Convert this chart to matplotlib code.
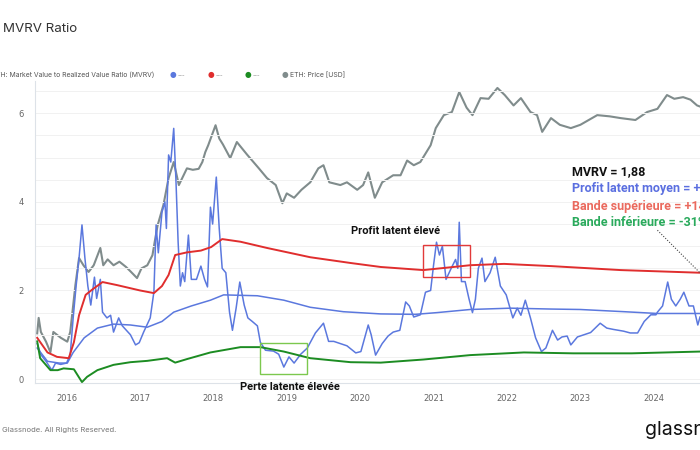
import matplotlib
matplotlib.use('Agg')
import matplotlib.pyplot as plt
from matplotlib.patches import Rectangle
import numpy as np

# decimal years
mvrv_x = [2015.60, 2015.65, 2015.72, 2015.80, 2015.85, 2015.92, 2016.00, 2016.05, 2016.09, 2016.13,
          2016.17, 2016.21, 2016.25, 2016.29, 2016.33, 2016.38, 2016.41, 2016.46, 2016.49, 2016.55,
          2016.60, 2016.64, 2016.71, 2016.76, 2016.87, 2016.94, 2016.99, 2017.05, 2017.14, 2017.19,
          2017.22, 2017.25, 2017.30, 2017.34, 2017.36, 2017.39, 2017.42, 2017.46, 2017.49, 2017.52,
          2017.55, 2017.58, 2017.61, 2017.66, 2017.70, 2017.77, 2017.83, 2017.88, 2017.92, 2017.96,
          2017.99, 2018.04, 2018.08, 2018.12, 2018.17, 2018.22, 2018.26, 2018.31, 2018.36, 2018.42,
          2018.47, 2018.53, 2018.60, 2018.64, 2018.71, 2018.82, 2018.89, 2018.96, 2019.03, 2019.10,
          2019.19, 2019.28, 2019.39, 2019.50, 2019.57, 2019.64, 2019.73, 2019.82, 2019.94, 2020.01,
          2020.11, 2020.15, 2020.21, 2020.30, 2020.38, 2020.45, 2020.54, 2020.62, 2020.67, 2020.73,
          2020.82, 2020.89, 2020.96, 2021.00, 2021.04, 2021.08, 2021.12, 2021.17, 2021.24, 2021.30,
          2021.33, 2021.35, 2021.38, 2021.43, 2021.48, 2021.53, 2021.57, 2021.61, 2021.66, 2021.70,
          2021.77, 2021.84, 2021.91, 2021.99, 2022.08, 2022.14, 2022.19, 2022.25, 2022.32, 2022.39,
          2022.47, 2022.53, 2022.62, 2022.69, 2022.75, 2022.82, 2022.87, 2022.96, 2023.05, 2023.14,
          2023.27, 2023.36, 2023.45, 2023.59, 2023.68, 2023.78, 2023.87, 2023.96, 2024.03, 2024.05,
          2024.12, 2024.19, 2024.24, 2024.30, 2024.36, 2024.41, 2024.48, 2024.54, 2024.60, 2024.63]
mvrv = [0.80, 0.55, 0.40, 0.20, 0.36, 0.33, 0.36, 0.55, 1.38, 2.10,
        2.73, 3.48, 2.73, 2.10, 1.67, 2.30, 1.82, 2.25, 1.51, 1.38,
        1.44, 1.06, 1.38, 1.20, 1.00, 0.77, 0.82, 1.06, 1.38, 1.97,
        3.48, 2.85, 3.77, 4.00, 3.40, 5.06, 4.90, 5.66, 4.50, 3.09,
        2.10, 2.40, 2.20, 3.25, 2.25, 2.25, 2.55, 2.25, 2.08, 3.88,
        3.50, 4.56, 3.40, 2.50, 2.40, 1.51, 1.10, 1.60, 2.19, 1.67,
        1.38, 1.30, 1.20, 0.83, 0.65, 0.63, 0.56, 0.27, 0.50, 0.36,
        0.56, 0.70, 1.04, 1.26, 0.85, 0.85, 0.80, 0.75, 0.59, 0.62,
        1.22, 1.00, 0.54, 0.80, 0.97, 1.06, 1.10, 1.74, 1.65, 1.40,
        1.45, 1.96, 2.00, 2.57, 3.09, 2.80, 3.00, 2.25, 2.50, 2.70,
        2.50, 3.54, 2.20, 2.20, 1.83, 1.50, 1.80, 2.50, 2.73, 2.20,
        2.40, 2.75, 2.10, 1.90, 1.38, 1.60, 1.44, 1.78, 1.38, 0.93,
        0.62, 0.70, 1.10, 0.88, 0.95, 0.97, 0.77, 0.95, 1.00, 1.05,
        1.26, 1.15, 1.12, 1.08, 1.04, 1.04, 1.30, 1.45, 1.45, 1.51,
        1.65, 2.19, 1.80, 1.65, 1.80, 1.96, 1.65, 1.65, 1.22, 1.40]

mean_x = [2015.60, 2015.74, 2015.90, 2016.01, 2016.09, 2016.24, 2016.42, 2016.64, 2016.87, 2017.10,
          2017.30, 2017.46, 2017.70, 2017.96, 2018.14, 2018.60, 2018.96, 2019.32, 2019.77, 2020.28,
          2020.75, 2021.05, 2021.50, 2022.05, 2022.60, 2023.00, 2023.60, 2024.05, 2024.63]
mean_band = [0.70, 0.40, 0.36, 0.36, 0.60, 0.93, 1.15, 1.24, 1.22, 1.17,
             1.30, 1.51, 1.65, 1.78, 1.90, 1.88, 1.78, 1.62, 1.52, 1.47,
             1.46, 1.50, 1.57, 1.60, 1.58, 1.57, 1.52, 1.48, 1.48]

upper_x = [2015.60, 2015.74, 2015.87, 2016.03, 2016.10, 2016.17, 2016.26, 2016.35, 2016.49, 2016.69,
           2017.00, 2017.19, 2017.30, 2017.39, 2017.48, 2017.64, 2017.83, 2017.97, 2018.12, 2018.37,
           2018.73, 2019.32, 2019.87, 2020.28, 2020.86, 2021.27, 2021.50, 2021.96, 2022.60, 2023.55,
           2024.63]
upper_band = [0.93, 0.60, 0.50, 0.47, 0.83, 1.44, 1.90, 2.02, 2.19, 2.12,
              2.00, 1.94, 2.10, 2.35, 2.80, 2.86, 2.90, 2.98, 3.16, 3.10,
              2.96, 2.75, 2.62, 2.53, 2.46, 2.53, 2.57, 2.60, 2.55, 2.46,
              2.40]

lower_x = [2015.60, 2015.64, 2015.78, 2015.88, 2015.96, 2016.10, 2016.21, 2016.28, 2016.42, 2016.64,
           2016.87, 2017.10, 2017.37, 2017.48, 2017.64, 2017.96, 2018.37, 2018.64, 2018.96, 2019.32,
           2019.87, 2020.28, 2020.86, 2021.50, 2022.23, 2022.90, 2023.70, 2024.63]
lower_band = [0.85, 0.47, 0.20, 0.20, 0.24, 0.22, -0.07, 0.05, 0.20, 0.32,
              0.38, 0.41, 0.47, 0.37, 0.45, 0.60, 0.72, 0.72, 0.62, 0.47,
              0.38, 0.37, 0.44, 0.54, 0.60, 0.58, 0.58, 0.62]

price_x = [2015.60, 2015.62, 2015.65, 2015.72, 2015.78, 2015.82, 2015.92, 2016.01, 2016.05, 2016.08,
           2016.12, 2016.17, 2016.23, 2016.30, 2016.37, 2016.46, 2016.50, 2016.56, 2016.64, 2016.72,
           2016.81, 2016.87, 2016.96, 2017.02, 2017.10, 2017.17, 2017.20, 2017.24, 2017.32, 2017.39,
           2017.46, 2017.53, 2017.64, 2017.72, 2017.80, 2017.85, 2017.89, 2017.93, 2018.03, 2018.08,
           2018.13, 2018.23, 2018.32, 2018.46, 2018.62, 2018.73, 2018.85, 2018.94, 2019.00, 2019.10,
           2019.20, 2019.32, 2019.43, 2019.50, 2019.58, 2019.73, 2019.82, 2019.96, 2020.04, 2020.11,
           2020.20, 2020.30, 2020.45, 2020.55, 2020.64, 2020.73, 2020.82, 2020.96, 2021.03, 2021.14,
           2021.25, 2021.35, 2021.45, 2021.53, 2021.64, 2021.75, 2021.87, 2021.97, 2022.09, 2022.19,
           2022.32, 2022.41, 2022.48, 2022.60, 2022.72, 2022.87, 2023.00, 2023.23, 2023.40, 2023.55,
           2023.75, 2023.91, 2024.05, 2024.18, 2024.28, 2024.40, 2024.50, 2024.59, 2024.63]
price_usd = [1.0, 1.71, 1.05, 0.75, 0.52, 1.05, 0.86, 0.75, 1.05, 2.09,
             5.3, 13.6, 10.6, 8.4, 10.6, 19.3, 10.6, 13.0, 10.6, 12.0,
             10.0, 8.6, 6.8, 9.5, 10.6, 15, 23.6, 42, 86, 218,
             380, 171, 305, 290, 300, 380, 535, 680, 1360, 860,
             700, 435, 760, 490, 305, 218, 171, 91, 128, 110,
             145, 188, 305, 340, 188, 171, 188, 145, 171, 265,
             110, 188, 240, 240, 400, 340, 380, 680, 1230, 1930,
             2150, 4300, 2500, 1930, 3480, 3400, 4950, 3870, 2700, 3480,
             2150, 1930, 1080, 1740, 1380, 1230, 1380, 1930, 1850, 1740,
             1630, 2150, 2400, 3870, 3400, 3600, 3300, 2700, 2600]

years = list(range(2016, 2025))

C_BLUE = '#5b78de'
C_RED = '#e02e2e'
C_GREEN = '#1c8c22'
C_GRAY = '#808c8c'

fig = plt.figure(figsize=(7, 4.5), dpi=100)
ax = fig.add_axes([35/700, 1 - 383/450, 1 - 35/700, 302/450])
ax2 = ax.twinx()

# price on hidden log axis, behind the ratio lines
ax2.plot(price_x, price_usd, color=C_GRAY, lw=1.5)
ax2.set_yscale('log')
ax2.set_ylim(0.179, 6300)
ax2.axis('off')
ax.set_zorder(ax2.get_zorder() + 1)
ax.patch.set_visible(False)

ax.plot(mvrv_x, mvrv, color=C_BLUE, lw=1.1)
ax.plot(mean_x, mean_band, color=C_BLUE, lw=1.1)
ax.plot(upper_x, upper_band, color=C_RED, lw=1.4)
ax.plot(lower_x, lower_band, color=C_GREEN, lw=1.4)

ax.set_xlim(2015.57, 2024.63)
ax2.set_xlim(2015.57, 2024.63)
ax.set_ylim(-0.09, 6.73)
ax.set_yticks([0, 2, 4, 6])
ax.set_yticks(np.arange(0, 7, 0.5), minor=True)
ax.set_xticks(years)
ax.set_xticklabels([str(y) for y in years])
ax.grid(axis='y', which='both', color='#f1f1f1', lw=0.7)
ax.tick_params(length=0, labelsize=6, labelcolor='#666666', pad=8)
ax.tick_params(which='minor', length=0)
for s in ['top', 'right']:
    ax.spines[s].set_visible(False)
for s in ['left', 'bottom']:
    ax.spines[s].set_color('#dde2e8')

# boxes and notes
ax.add_patch(Rectangle((2020.86, 2.30), 0.63, 0.72, fill=False, ec='#e23a3a', lw=1.0, zorder=5))
ax.add_patch(Rectangle((2018.64, 0.11), 0.64, 0.70, fill=False, ec='#7cc84e', lw=1.0, zorder=5))
ax.text(2019.87, 3.34, 'Profit latent élevé', fontsize=8, fontweight='bold',
        family='Roboto', va='center', color='#111111')
ax.text(2018.36, -0.18, 'Perte latente élevée', fontsize=8, fontweight='bold',
        family='Roboto', va='center', color='#111111', clip_on=False)
ax.plot([2024.05, 2024.9], [3.36, 1.95], ls=(0, (1, 1.5)), color='#444444', lw=0.8)

notes = [('MVRV = 1,88', '#111111'),
         ('Profit latent moyen = +48%', '#5b6fe0'),
         ('Bande supérieure = +140%', '#ea6a5e'),
         ('Bande inférieure = -31%', '#2aaa5c')]
for i, (t, c) in enumerate(notes):
    fig.text(572/700, 1 - (172 + i*17)/450, t, fontsize=9, fontweight='bold',
             family='Roboto', color=c, va='center')

# header
fig.text(3/700, 1 - 29/450, 'MVRV Ratio', fontsize=9.6, family='Inter',
         color='#333333', va='center')
leg_y = 1 - 75/450
fig.text(-8/700, leg_y, 'ETH: Market Value to Realized Value Ratio (MVRV)', fontsize=4.9,
         family='Inter', color='#555555', va='center')
for xd, c in [(173, C_BLUE), (211, C_RED), (248, C_GREEN), (285, C_GRAY)]:
    fig.text(xd/700, leg_y, '●', fontsize=5.5, color=c, va='center', ha='center')
for xd in [178, 216, 253]:
    fig.text(xd/700, leg_y, '---', fontsize=5, color='#999999', va='center')
fig.text(290/700, leg_y, 'ETH: Price [USD]', fontsize=4.9, family='Inter',
         color='#555555', va='center')

# footer
fig.text(2/700, 1 - 430/450, 'Glassnode. All Rights Reserved.', fontsize=5.5,
         family='Inter', color='#777777', va='center')
fig.text(645/700, 1 - 430/450, 'glassnode', fontsize=14, family='Inter',
         color='#111111', va='center')

fig.savefig('out.png', dpi=100)
